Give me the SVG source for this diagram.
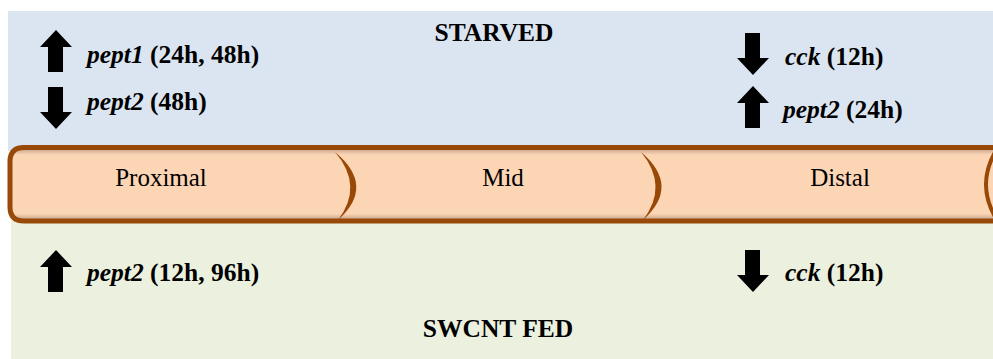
<svg xmlns="http://www.w3.org/2000/svg" width="993" height="359" viewBox="0 0 993 359">
<style>
text{font-family:"Liberation Serif","Times New Roman",serif;fill:#000}
.b{font-weight:bold;font-size:25.5px}
.i{font-style:italic}
.seg{font-size:25px}
.brown{fill:#984807}
</style>
<defs>
<path id="up" d="M16,0 L32,17 L23,17 L23,42 L8,42 L8,17 L0,17 Z" fill="#000"/>
<path id="down" d="M8,0 L23,0 L23,25 L32,25 L16,42 L0,25 L8,25 Z" fill="#000"/>
<linearGradient id="tube" x1="0" y1="0" x2="0" y2="1">
<stop offset="0" stop-color="#b99a83"/>
<stop offset="0.1" stop-color="#fcd5b5"/>
<stop offset="0.9" stop-color="#fcd5b5"/>
<stop offset="1" stop-color="#b99a83"/>
</linearGradient>
</defs>
<rect width="993" height="359" fill="#ffffff"/>
<g id="starved">
<rect x="8" y="11" width="985" height="140" fill="#dbe5f1"/>
<text class="b" x="494" y="41" text-anchor="middle">STARVED</text>
<use href="#up" x="40" y="30"/>
<text class="b" x="87" y="63"><tspan class="i">pept1</tspan> (24h, 48h)</text>
<use href="#down" x="40" y="87"/>
<text class="b" x="87" y="110"><tspan class="i">pept2</tspan> (48h)</text>
<use href="#down" x="737" y="33"/>
<text class="b" x="785" y="65"><tspan class="i">cck</tspan> (12h)</text>
<use href="#up" x="737" y="86"/>
<text class="b" x="783" y="118"><tspan class="i">pept2</tspan> (24h)</text>
</g>
<g id="fed">
<rect x="11" y="220" width="982" height="139" fill="#ebf1de"/>
<use href="#up" x="40" y="250"/>
<text class="b" x="87" y="281"><tspan class="i">pept2</tspan> (12h, 96h)</text>
<use href="#down" x="737" y="250"/>
<text class="b" x="785" y="281"><tspan class="i">cck</tspan> (12h)</text>
<text class="b" x="498" y="337" text-anchor="middle">SWCNT FED</text>
</g>
<g id="intestine">
<path d="M1000,147.5 L24,147.5 Q10,147.5 10,161.5 L10,207 Q10,221 24,221 L1000,221 Z" fill="url(#tube)" stroke="#984807" stroke-width="5"/>
<path d="M997,149 Q975,184.5 997,220" fill="none" stroke="#984807" stroke-width="4"/>
</g>
<g id="proximal">
<text class="seg" x="161" y="186" text-anchor="middle">Proximal</text>
<path class="brown" d="M335,152 Q376,186 338,220 Q364,186 335,152 Z"/>
</g>
<g id="mid">
<text class="seg" x="503" y="186" text-anchor="middle">Mid</text>
<path class="brown" d="M641,152 Q681,186 643,220 Q669,186 641,152 Z"/>
</g>
<g id="distal">
<text class="seg" x="840" y="186" text-anchor="middle">Distal</text>
</g>
</svg>
